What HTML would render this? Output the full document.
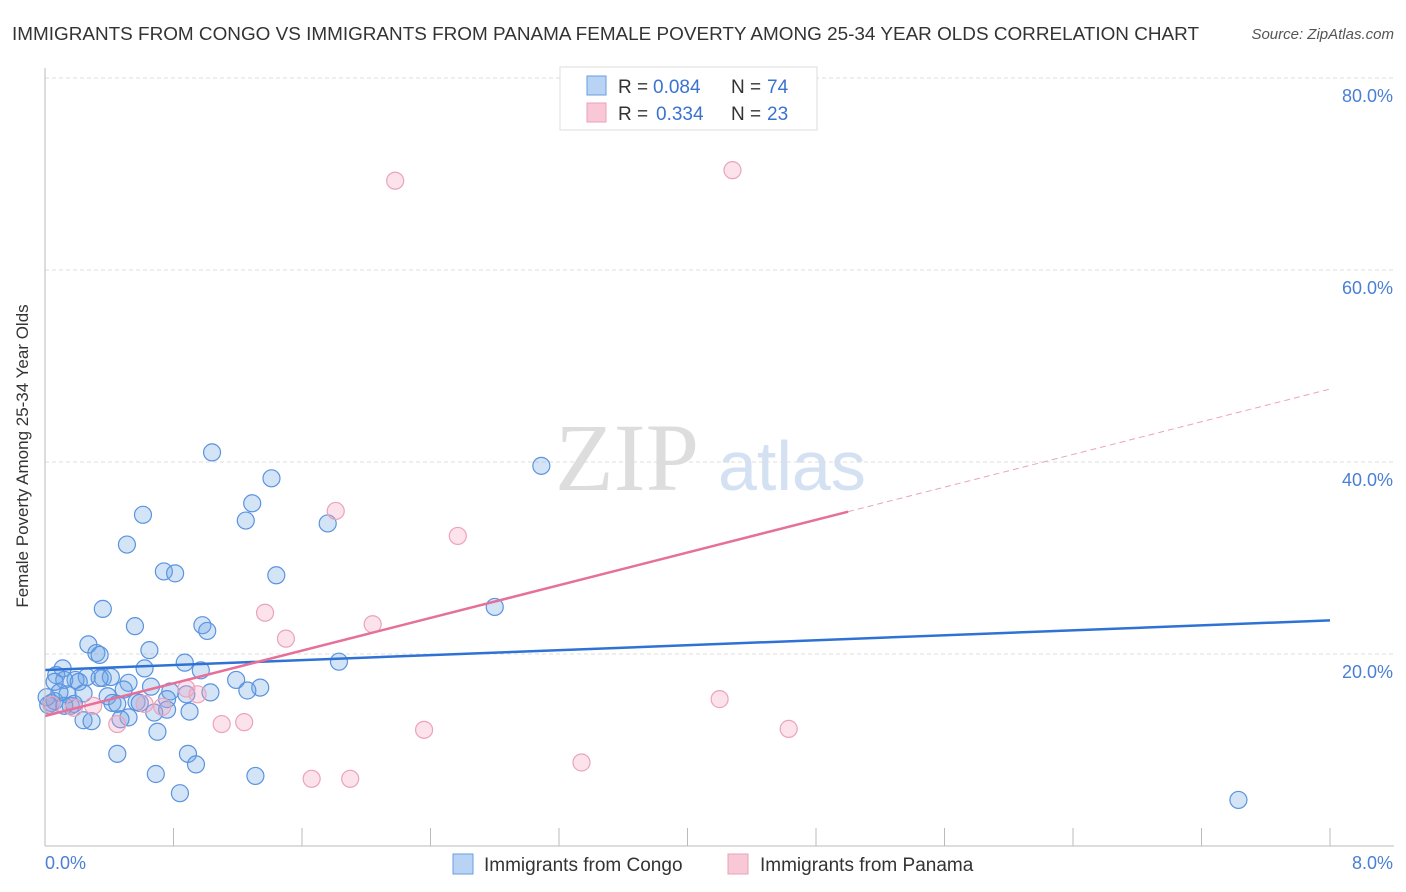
<!DOCTYPE html>
<html><head><meta charset="utf-8"><style>
body{margin:0;background:#fff;font-family:"Liberation Sans",sans-serif;}
#c{position:relative;width:1406px;height:892px;overflow:hidden}
</style></head><body>
<div id="c">
<svg id="s" width="1406" height="892" xmlns="http://www.w3.org/2000/svg">
<text x="12" y="40" font-size="18" fill="#333" textLength="1187" lengthAdjust="spacingAndGlyphs">IMMIGRANTS FROM CONGO VS IMMIGRANTS FROM PANAMA FEMALE POVERTY AMONG 25-34 YEAR OLDS CORRELATION CHART</text>
<text x="1394" y="39" font-size="15" fill="#555" font-style="italic" text-anchor="end">Source: ZipAtlas.com</text>
<text x="555" y="490" font-size="96" fill="#ddd" font-family="Liberation Serif,serif">ZIP</text>
<text x="718" y="490" font-size="70" fill="#d3e1f3">atlas</text>
<g id="grid"></g><g id="pts"></g><g id="lines"></g>
<line x1="45" y1="68" x2="45" y2="846" stroke="#bbb"/>
<line x1="45" y1="846" x2="1394" y2="846" stroke="#bbb"/>
<text x="28" y="456" font-size="17" fill="#333" text-anchor="middle" transform="rotate(-90 28 456)">Female Poverty Among 25-34 Year Olds</text>
<text x="45" y="869" font-size="18" fill="#4a7fd4">0.0%</text>
<text x="1393" y="869" font-size="18" fill="#4a7fd4" text-anchor="end">8.0%</text>
<g>
<rect x="560" y="67" width="257" height="63" fill="#fff" stroke="#ddd"/>
<rect x="587" y="76" width="19" height="19" fill="#b8d3f3" stroke="#6a9de0"/>
<rect x="587" y="103" width="19" height="19" fill="#f9c8d6" stroke="#eaa0b8"/>
<text x="618" y="93" font-size="19" fill="#333">R =</text>
<text x="653" y="93" font-size="19" fill="#3a73cf">0.084</text>
<text x="731" y="93" font-size="19" fill="#333">N =</text>
<text x="767" y="93" font-size="19" fill="#3a73cf">74</text>
<text x="618" y="120" font-size="19" fill="#333">R =</text>
<text x="656" y="120" font-size="19" fill="#3a73cf">0.334</text>
<text x="731" y="120" font-size="19" fill="#333">N =</text>
<text x="767" y="120" font-size="19" fill="#3a73cf">23</text>
</g>
<g>
<rect x="453" y="854" width="20" height="20" fill="#b8d3f3" stroke="#6a9de0"/>
<text x="484" y="871" font-size="19" fill="#333">Immigrants from Congo</text>
<rect x="728" y="854" width="20" height="20" fill="#f9c8d6" stroke="#eaa0b8"/>
<text x="760" y="871" font-size="19" fill="#333">Immigrants from Panama</text>
</g>
</svg>
</div>
<script>
const yTicks=[20,40,60,80];
const yTickLabels=["20.0%","40.0%","60.0%","80.0%"];
const xTicks=[0.8,1.6,2.4,3.2,4.0,4.8,5.6,6.4,7.2,8.0];
const congoX=[1.04,3.09,1.41,1.29,0.61,1.25,1.76,0.51,0.74,0.81,1.44,0.36,2.80,0.98,0.56,1.01,0.27,0.65,0.32,0.34,0.87,1.83,0.11,0.62,0.97,0.07,0.26,0.36,0.41,0.19,0.12,0.21,1.19,0.52,0.06,0.66,1.34,0.14,0.24,0.49,0.39,0.78,0.88,1.03,0.42,0.57,0.76,0.04,0.45,0.02,0.16,1.26,0.06,0.52,0.24,0.29,0.47,0.68,0.76,0.90,0.70,0.45,0.89,0.94,0.69,1.31,0.84,7.43,0.59,0.18,0.34,0.12,0.09,0.01];
const congoY=[41.0,39.6,38.3,35.7,34.5,33.9,33.6,31.4,28.6,28.4,28.2,24.7,24.9,23.0,22.9,22.4,21.0,20.4,20.1,19.9,19.1,19.2,18.5,18.5,18.3,17.8,17.6,17.5,17.6,17.3,17.3,17.1,17.3,17.0,17.1,16.6,16.5,15.8,15.9,16.3,15.6,16.1,15.8,16.0,14.9,15.0,15.3,14.9,14.8,14.7,14.6,16.2,15.1,13.4,13.1,13.0,13.2,13.9,14.2,14.0,11.9,9.6,9.6,8.5,7.5,7.3,5.5,4.8,14.9,14.8,17.5,14.6,16.0,15.5];
const panamaX=[2.18,4.28,1.81,2.57,1.37,1.50,2.04,0.88,0.95,0.73,0.62,4.20,1.10,1.24,0.45,2.36,4.63,3.34,1.66,1.90,0.04,0.30,0.18];
const panamaY=[69.3,70.4,34.9,32.3,24.3,21.6,23.1,16.4,15.8,14.5,14.8,15.3,12.7,12.9,12.7,12.1,12.2,8.7,7.0,7.0,14.7,14.6,14.4];
const congoTrend=[18.33,23.5];
const panamaTrend=[13.54,47.6];
const X0=45,X1=1330,Y0=846,PY=9.6;
const sx=v=>X0+v/8*(X1-X0), sy=v=>Y0-v*PY;
const NS="http://www.w3.org/2000/svg";
function mk(t,a,p){const e=document.createElementNS(NS,t);for(const k in a)e.setAttribute(k,a[k]);p.appendChild(e);return e;}
const grid=document.getElementById('grid');
yTicks.forEach((t,i)=>{
 const l=mk('line',{x1:45,x2:1394,y1:sy(t),y2:sy(t),stroke:'#ddd','stroke-dasharray':'4,3'},grid);
 
 
 const tx=mk('text',{x:1393,y:sy(t)+24,'font-size':18,fill:'#4a7fd4','text-anchor':'end'},grid);
 tx.textContent=yTickLabels[i];
 
 
});
xTicks.forEach(t=>{
 const l=mk('line',{x1:sx(t),x2:sx(t),y1:828,y2:846,stroke:'#bbb'},grid);
 
 
});
const pts=document.getElementById('pts');
congoX.forEach((x,i)=>{
 const c=mk('circle',{cx:sx(x),cy:sy(congoY[i]),r:8.5,fill:'rgba(110,165,230,0.3)',stroke:'#5b93e0','stroke-width':1.2},pts);
 
 
});
panamaX.forEach((x,i)=>{
 const c=mk('circle',{cx:sx(x),cy:sy(panamaY[i]),r:8.5,fill:'rgba(245,160,190,0.3)',stroke:'#eba3bb','stroke-width':1.2},pts);
 
 
});
const ln=document.getElementById('lines');
const b=mk('line',{x1:sx(0),y1:sy(congoTrend[0]),x2:sx(8),y2:sy(congoTrend[1]),stroke:'#2f72d6','stroke-width':2.5},ln);


const pm=v=>panamaTrend[0]+(panamaTrend[1]-panamaTrend[0])*v/8;
const p1=mk('line',{x1:sx(0),y1:sy(pm(0)),x2:sx(5),y2:sy(pm(5)),stroke:'#e5709a','stroke-width':2.5},ln);


const p2=mk('line',{x1:sx(5),y1:sy(pm(5)),x2:sx(8),y2:sy(pm(8)),stroke:'#eba3bb','stroke-width':1,'stroke-dasharray':'6,4'},ln);


</script>
</body></html>
